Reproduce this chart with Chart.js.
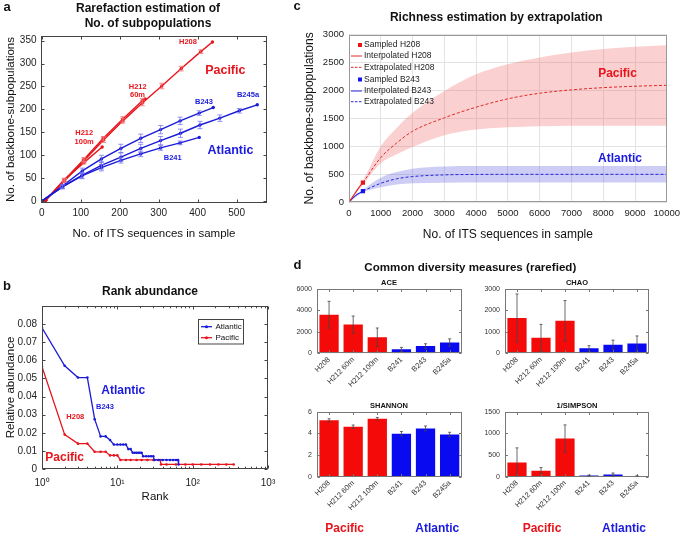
<!DOCTYPE html>
<html><head><meta charset="utf-8">
<script src="https://cdn.jsdelivr.net/npm/chart.js@4.4.1/dist/chart.umd.min.js"></script>
<style>
body{margin:0;background:#fff;}
#wrap{position:relative;width:685px;height:533px;overflow:hidden;font-family:"Liberation Sans",Arial,sans-serif;color:#111;}
#wrap canvas{position:absolute;left:0;top:0;}
.t{position:absolute;white-space:nowrap;transform:translate(-50%,-50%);line-height:1;}
.b{font-weight:bold;}
.r{color:#e8141c;}
.u{color:#1a1ae0;}
</style></head><body>
<div id="wrap">
<canvas id="ca" width="685" height="533"></canvas>
<canvas id="cb" width="685" height="533"></canvas>
<canvas id="cc" width="685" height="533"></canvas>
<canvas id="cd1" width="685" height="533"></canvas>
<canvas id="cd2" width="685" height="533"></canvas>
<canvas id="cd3" width="685" height="533"></canvas>
<canvas id="cd4" width="685" height="533"></canvas>

<div class="t b" style="left:7px;top:6px;font-size:13px;">a</div>
<div class="t b" style="left:7px;top:285px;font-size:13px;">b</div>
<div class="t b" style="left:297px;top:5px;font-size:13px;">c</div>
<div class="t b" style="left:297.5px;top:263.5px;font-size:13px;">d</div>

<div class="t b" style="left:148px;top:7.5px;font-size:12px;">Rarefaction estimation of</div>
<div class="t b" style="left:148px;top:22.7px;font-size:12px;">No. of subpopulations</div>
<div class="t b" style="left:150px;top:290.5px;font-size:12px;">Rank abundance</div>
<div class="t b" style="left:496.3px;top:17.3px;font-size:12px;">Richness estimation by extrapolation</div>
<div class="t b" style="left:470.3px;top:266.7px;font-size:11.6px;">Common diversity measures (rarefied)</div>

<div class="t b r" style="left:188px;top:41.7px;font-size:7.5px;">H208</div>
<div class="t b r" style="left:225.3px;top:70px;font-size:12.5px;">Pacific</div>
<div class="t b u" style="left:204px;top:101.5px;font-size:7.5px;">B243</div>
<div class="t b u" style="left:248px;top:95px;font-size:7.5px;">B245a</div>
<div class="t b u" style="left:230.5px;top:150.3px;font-size:12.5px;">Atlantic</div>
<div class="t b u" style="left:172.7px;top:157.8px;font-size:7.5px;">B241</div>
<div class="t b r" style="left:137.7px;top:86.7px;font-size:7.5px;">H212</div>
<div class="t b r" style="left:137.5px;top:94.7px;font-size:7.5px;">60m</div>
<div class="t b r" style="left:84.2px;top:133.2px;font-size:7.5px;">H212</div>
<div class="t b r" style="left:84.2px;top:141.8px;font-size:7.5px;">100m</div>

<div class="t b u" style="left:123.3px;top:390px;font-size:12px;">Atlantic</div>
<div class="t b u" style="left:105px;top:406.5px;font-size:7.5px;">B243</div>
<div class="t b r" style="left:75.3px;top:416.5px;font-size:7.5px;">H208</div>
<div class="t b r" style="left:64.7px;top:456.5px;font-size:12px;">Pacific</div>

<div class="t b r" style="left:617.5px;top:72.5px;font-size:12px;">Pacific</div>
<div class="t b u" style="left:620px;top:158px;font-size:12px;">Atlantic</div>

<div class="t b" style="left:389px;top:282.7px;font-size:7.5px;">ACE</div>
<div class="t b" style="left:577px;top:282.7px;font-size:7.5px;">CHAO</div>
<div class="t b" style="left:389px;top:406px;font-size:7.5px;">SHANNON</div>
<div class="t b" style="left:577px;top:406px;font-size:7.5px;">1/SIMPSON</div>

<div class="t b r" style="left:344.7px;top:527.7px;font-size:12px;">Pacific</div>
<div class="t b u" style="left:437.3px;top:527.7px;font-size:12px;">Atlantic</div>
<div class="t b r" style="left:542px;top:527.7px;font-size:12px;">Pacific</div>
<div class="t b u" style="left:624px;top:527.7px;font-size:12px;">Atlantic</div>
</div>
<script>
// ---------- Panel a: rarefaction ----------
const ticksA_X=[0,100,200,300,400,500];
const ticksA_Y=[0,50,100,150,200,250,300,350];
const rareH208X=[10,58,108,158,208,258,308,358,408,438];
const rareH208Y=[2,44,88,133,175,214,251,289,326,347];
const rareH208E=[0,3,4,5,5,6,6,5,4,0];
const rareH212_60X=[10,58,108,158,208,258,265];
const rareH212_60Y=[2,46,91,137,179,219,223];
const rareH212_60E=[0,3,4,4,5,5,0];
const rareH212_100X=[10,58,108,155];
const rareH212_100Y=[2,47,84,118];
const rareH212_100E=[0,3,3,0];
const rareB241X=[0,53,103,153,203,254,305,355,404];
const rareB241Y=[0,31,55,73,89,103,116,127,139];
const rareB241E=[0,4,6,7,6,6,5,4,0];
const rareB243X=[0,53,104,153,203,254,305,355,404,440];
const rareB243Y=[0,33,66,92,115,137,156,175,192,204];
const rareB243E=[0,4,6,8,9,9,9,8,5,0];
const rareB245aX=[0,53,103,153,203,254,305,356,406,457,507,553];
const rareB245aY=[0,31,56,78,96,115,132,148,166,181,197,210];
const rareB245aE=[0,4,6,8,9,9,9,9,8,7,5,0];

// ---------- Panel b: rank abundance ----------
const ticksB_X=[1,10,100,1000];
const ticksB_Xlab=['10\u2070','10\u00b9','10\u00b2','10\u00b3'];
const ticksB_Y=[0,0.01,0.02,0.03,0.04,0.05,0.06,0.07,0.08];
const rankAtl=[1,2,3,4,5,6,7,8,9,10,11,12,13,14,15,16,17,18,19,20,21,22,24,26,28,30,31,35,40,45,50,55,60,64,65];
const abunAtl=[.078,.057,.0505,.0505,.0275,.018,.018,.016,.0135,.0135,.0135,.0135,.0135,.011,.011,.009,.009,.009,.009,.009,.009,.007,.007,.007,.007,.007,.005,.005,.005,.005,.005,.005,.005,.005,.0025];
const rankPac=[1,2,3,4,5,6,7,8,9,10,11,13,15,18,21,25,30,37,38,45,60,80,100,130,170,220,280,350];
const abunPac=[.0565,.019,.014,.014,.0095,.0095,.0095,.0075,.0075,.0075,.005,.005,.005,.005,.005,.005,.005,.005,.0025,.0025,.0025,.0025,.0025,.0025,.0025,.0025,.0025,.0025];
const legendB=['Atlantic','Pacific'];

// ---------- Panel c: extrapolation ----------
const intX=[0,100,200,300,438];
const intH208=[0,85,170,255,350];
const intB243=[0,65,115,156,200];
const extX=[438,1000,1500,2000,3000,4000,5000,6000,7000,8000,9000,10000];
const extH208=[350,800,1060,1270,1510,1700,1850,1950,2010,2050,2075,2092];
const extH208Lo=[320,700,860,990,1200,1300,1340,1360,1370,1370,1370,1370];
const extH208Hi=[385,1000,1330,1600,1990,2290,2470,2590,2680,2740,2780,2810];
const extB243=[200,340,420,460,490,498,500,500,500,500,500,500];
const extB243Lo=[180,270,320,340,350,352,352,352,352,352,352,352];
const extB243Hi=[222,440,540,600,640,650,650,650,650,650,650,650];
const sampledH208=[438,350];
const sampledB243=[438,200];
const legendC=['Sampled H208','Interpolated H208','Extrapolated H208','Sampled B243','Interpolated B243','Extrapolated B243'];

// ---------- Panel d: diversity measures ----------
const divLabels=['H208','H212 60m','H212 100m','B241','B243','B245a'];
const divOcean=['Pacific','Pacific','Pacific','Atlantic','Atlantic','Atlantic'];
const aceVals=[3600,2680,1500,370,670,1010];
const aceErr=[1250,800,860,180,220,340];
const chaoVals=[1650,720,1520,230,400,460];
const chaoErr=[1120,630,940,125,215,350];
const shannonVals=[5.2,4.62,5.35,3.97,4.46,3.9];
const shannonErr=[0.15,0.15,0.12,0.2,0.22,0.2];
const simpsonVals=[325,140,880,25,50,15];
const simpsonErr=[340,70,315,10,35,8];
const aceTicks=[0,2000,4000,6000];
const chaoTicks=[0,1000,2000,3000];
const shannonTicks=[0,2,4,6];
const simpsonTicks=[0,500,1000,1500];

// ================= rendering =================
const W=685,H=533;
const FONT='"Liberation Sans", Arial, sans-serif';
Chart.defaults.font.family=FONT;
Chart.defaults.color='#222';
const RED='rgb(232,20,28)', BLUE='rgb(26,26,215)';
const plain=v=>String(v);

function pad(l,t,r,b,axW,axH){return {left:l-axW,top:t,right:W-r,bottom:H-b-axH};}
function pts(xs,ys){return xs.map((x,i)=>({x:x,y:ys[i]}));}
function setTicks(arr){return s=>{s.ticks=arr.map(v=>({value:v}));};}

function framePlugin(o){
  return {id:'frameTicks',afterDatasetsDraw(chart){
    const ctx=chart.ctx,a=chart.chartArea,xs=chart.scales.x,ys=chart.scales.y;
    ctx.save();
    ctx.strokeStyle=o.color;ctx.lineWidth=1;
    const L0=Math.round(a.left)+0.5,T0=Math.round(a.top)+0.5,R0=Math.round(a.right)-0.5,B0=Math.round(a.bottom)-0.5;
    ctx.strokeRect(L0,T0,R0-L0,B0-T0);
    const L=o.len||0;
    if(L>0){
      ctx.beginPath();
      const xp=[];
      xs.ticks.forEach((t,i)=>xp.push([xs.getPixelForTick(i),L]));
      if(o.logMinor){for(let d=1;d<xs.max;d*=10)for(let k=2;k<10;k++){const v=k*d;if(v<xs.max)xp.push([xs.getPixelForValue(v),L*0.6]);}}
      xp.forEach(p=>{const x=Math.round(p[0])+0.5;ctx.moveTo(x,B0);ctx.lineTo(x,B0-p[1]);ctx.moveTo(x,T0);ctx.lineTo(x,T0+p[1]);});
      ys.ticks.forEach((t,i)=>{const y=Math.round(ys.getPixelForTick(i))+0.5;ctx.moveTo(L0,y);ctx.lineTo(L0+L,y);ctx.moveTo(R0,y);ctx.lineTo(R0-L,y);});
      ctx.stroke();
    }
    ctx.restore();
  }};
}
const errPlugin={id:'errBars',afterDatasetsDraw(chart){
  const ctx=chart.ctx,ys=chart.scales.y,a=chart.chartArea;
  chart.data.datasets.forEach((ds,i)=>{
    if(!ds.errs)return;
    const meta=chart.getDatasetMeta(i);
    ctx.save();ctx.strokeStyle=ds.errColor;ctx.lineWidth=ds.errWidth||1;
    ds.errs.forEach((e,j)=>{
      if(!e)return;
      const d=ds.data[j];const v=(typeof d==='object')?d.y:d;
      const x=meta.data[j].x;
      const yTop=Math.max(a.top,ys.getPixelForValue(v+e));
      const yBot=Math.min(a.bottom,ys.getPixelForValue(v-e));
      const c=ds.errCap||2;
      ctx.beginPath();
      ctx.moveTo(x,yTop);ctx.lineTo(x,yBot);
      ctx.moveTo(x-c,yTop);ctx.lineTo(x+c,yTop);
      if(yBot<a.bottom-0.5){ctx.moveTo(x-c,yBot);ctx.lineTo(x+c,yBot);}
      ctx.stroke();
    });
    ctx.restore();
  });
}};

function axisX(o){
  return Object.assign({type:'linear',grid:{display:false,drawTicks:false},border:{display:false},
    ticks:{font:{size:10},color:'#222',padding:4,maxRotation:0,minRotation:0,callback:plain}},o);
}

// ---- Panel a ----
function rareSet(xs,ys,es,color,errColor){
  return {data:pts(xs,ys),errs:es,errColor:errColor,errCap:2.5,borderColor:color,backgroundColor:color,
    borderWidth:1.4,pointRadius:1.7,pointBorderWidth:0,tension:0,fill:false};
}
new Chart(document.getElementById('ca'),{
  type:'line',
  data:{datasets:[
    rareSet(rareB241X,rareB241Y,rareB241E,BLUE,'rgba(110,110,240,0.75)'),
    rareSet(rareB243X,rareB243Y,rareB243E,BLUE,'rgba(110,110,240,0.75)'),
    rareSet(rareB245aX,rareB245aY,rareB245aE,BLUE,'rgba(110,110,240,0.75)'),
    rareSet(rareH208X,rareH208Y,rareH208E,RED,'rgba(240,110,110,0.8)'),
    rareSet(rareH212_60X,rareH212_60Y,rareH212_60E,RED,'rgba(240,110,110,0.8)'),
    rareSet(rareH212_100X,rareH212_100Y,rareH212_100E,RED,'rgba(240,110,110,0.8)')
  ]},
  options:{responsive:false,animation:false,devicePixelRatio:1,
    layout:{padding:pad(41,36,267,203,40.9,41.9)},
    plugins:{legend:{display:false},tooltip:{enabled:false}},
    scales:{
      x:axisX({min:-2,max:578,afterBuildTicks:setTicks(ticksA_X),afterFit:s=>{s.height=41.9;},
        title:{display:true,text:'No. of ITS sequences in sample',font:{size:11.5},color:'#111',padding:4}}),
      y:axisX({min:-4,max:360,afterBuildTicks:setTicks(ticksA_Y),afterFit:s=>{s.width=40.9;},
        ticks:{font:{size:10},color:'#222',padding:4.5,callback:plain},
        title:{display:true,text:'No. of backbone-subpopulations',font:{size:11.5},color:'#111',padding:4}})
    }},
  plugins:[framePlugin({color:'#444',len:3}),errPlugin]
});

// ---- Panel b ----
const colorsB=[BLUE,RED];
new Chart(document.getElementById('cb'),{
  type:'line',
  data:{datasets:[
    {data:pts(rankAtl,abunAtl),borderColor:BLUE,backgroundColor:BLUE,borderWidth:1.3,pointRadius:1.3,pointBorderWidth:0,fill:false,tension:0},
    {data:pts(rankPac,abunPac),borderColor:RED,backgroundColor:RED,borderWidth:1.3,pointRadius:1.3,pointBorderWidth:0,fill:false,tension:0}
  ]},
  options:{responsive:false,animation:false,devicePixelRatio:1,
    layout:{padding:pad(42,306,268,469,41.9,38.9)},
    plugins:{legend:{display:false},tooltip:{enabled:false}},
    scales:{
      x:axisX({type:'logarithmic',min:1,max:1000,afterBuildTicks:setTicks(ticksB_X),afterFit:s=>{s.height=38.9;},
        ticks:{font:{size:10},color:'#222',padding:8,maxRotation:0,minRotation:0,callback:(v)=>ticksB_Xlab[ticksB_X.indexOf(v)]},
        title:{display:true,text:'Rank',font:{size:11.5},color:'#111',padding:4}}),
      y:axisX({min:0,max:0.09,afterBuildTicks:setTicks(ticksB_Y),afterFit:s=>{s.width=41.9;},
        ticks:{font:{size:10},color:'#222',padding:5,callback:v=>v===0?'0':v.toFixed(2)},
        title:{display:true,text:'Relative abundance',font:{size:11.5},color:'#111',padding:4}})
    }},
  plugins:[framePlugin({color:'#444',len:3,logMinor:true}),
    {id:'legB',afterDraw(chart){
      const ctx=chart.ctx;ctx.save();
      ctx.fillStyle='#fff';ctx.fillRect(198.5,319.5,45,24.5);
      ctx.strokeStyle='#444';ctx.lineWidth=1;ctx.strokeRect(198.5,319.5,45,24.5);
      legendB.forEach((name,i)=>{
        const y=326.7+i*11;
        ctx.strokeStyle=colorsB[i];ctx.lineWidth=1.3;ctx.beginPath();ctx.moveTo(201,y);ctx.lineTo(212,y);ctx.stroke();
        ctx.fillStyle=colorsB[i];ctx.beginPath();ctx.arc(206.5,y,1.5,0,7);ctx.fill();
        ctx.fillStyle='#111';ctx.font='8px '+FONT;ctx.textBaseline='middle';ctx.fillText(name,215.5,y);
      });
      ctx.restore();
    }}]
});

// ---- Panel c ----
const RED_C='rgb(225,40,40)', BLUE_C='rgb(40,40,220)';
new Chart(document.getElementById('cc'),{
  type:'line',
  data:{datasets:[
    {data:[{x:sampledH208[0],y:sampledH208[1]}],showLine:false,pointStyle:'rect',pointRadius:3,backgroundColor:'rgb(235,20,20)',borderWidth:0},
    {data:[{x:sampledB243[0],y:sampledB243[1]}],showLine:false,pointStyle:'rect',pointRadius:3,backgroundColor:'rgb(20,20,235)',borderWidth:0},
    {data:pts(intX,intH208),borderColor:RED_C,borderWidth:1.2,pointRadius:0,fill:false,cubicInterpolationMode:'monotone'},
    {data:pts(extX,extH208),borderColor:RED_C,borderWidth:1,borderDash:[3,2],pointRadius:0,fill:false,cubicInterpolationMode:'monotone'},
    {data:pts(intX,intB243),borderColor:BLUE_C,borderWidth:1.2,pointRadius:0,fill:false,cubicInterpolationMode:'monotone'},
    {data:pts(extX,extB243),borderColor:BLUE_C,borderWidth:1,borderDash:[3,2],pointRadius:0,fill:false,cubicInterpolationMode:'monotone'},
    {data:pts([0].concat(extX),[0].concat(extH208Lo)),borderWidth:0,pointRadius:0,fill:false,cubicInterpolationMode:'monotone'},
    {data:pts([0].concat(extX),[0].concat(extH208Hi)),borderWidth:0,pointRadius:0,fill:'-1',backgroundColor:'rgba(240,85,85,0.28)',cubicInterpolationMode:'monotone'},
    {data:pts([0].concat(extX),[0].concat(extB243Lo)),borderWidth:0,pointRadius:0,fill:false,cubicInterpolationMode:'monotone'},
    {data:pts([0].concat(extX),[0].concat(extB243Hi)),borderWidth:0,pointRadius:0,fill:'-1',backgroundColor:'rgba(90,90,225,0.3)',cubicInterpolationMode:'monotone'}
  ]},
  options:{responsive:false,animation:false,devicePixelRatio:1,
    layout:{padding:pad(349,34.5,671,202.3,50.2,43.9)},
    plugins:{legend:{display:false},tooltip:{enabled:false}},
    scales:{
      x:axisX({min:0,max:10000,ticks:{stepSize:1000,font:{size:9.5},color:'#222',padding:5,maxRotation:0,minRotation:0,callback:plain},
        grid:{display:true,drawTicks:false,color:'#e3e3e3'},afterFit:s=>{s.height=43.9;},
        title:{display:true,text:'No. of ITS sequences in sample',font:{size:12},color:'#111',padding:4}}),
      y:axisX({min:0,max:3000,ticks:{stepSize:500,font:{size:9.5},color:'#222',padding:5,callback:plain},
        grid:{display:true,drawTicks:false,color:'#e3e3e3'},afterFit:s=>{s.width=50.2;},
        title:{display:true,text:'No. of backbone-subpopulations',font:{size:12},color:'#111',padding:4}})
    }},
  plugins:[framePlugin({color:'#999',len:0}),
    {id:'legC',afterDraw(chart){
      const ctx=chart.ctx;ctx.save();
      const ys=[45,56,67.3,79.5,91,101.7];
      legendC.forEach((name,i)=>{
        const col=i<3?RED_C:BLUE_C;const y=ys[i];const kind=i%3;
        if(kind===0){ctx.fillStyle=i<3?'rgb(235,20,20)':'rgb(20,20,235)';ctx.fillRect(358,y-2,4,4);}
        else{ctx.strokeStyle=col;ctx.lineWidth=1;ctx.setLineDash(kind===2?[2.5,1.5]:[]);ctx.beginPath();ctx.moveTo(351,y);ctx.lineTo(362,y);ctx.stroke();ctx.setLineDash([]);}
        ctx.fillStyle='#222';ctx.font='8.5px '+FONT;ctx.textBaseline='middle';ctx.fillText(name,364,y);
      });
      ctx.restore();
    }}]
});

// ---- Panel d ----
const barColors=divOcean.map(o=>o==='Pacific'?'rgb(245,10,10)':'rgb(10,10,240)');
function divChart(id,vals,errs,tickVals,l,t,r,b){
  new Chart(document.getElementById(id),{
    type:'bar',
    data:{labels:divLabels,datasets:[{data:vals,errs:errs,errColor:'#444',errWidth:0.8,errCap:1.5,
      backgroundColor:barColors,borderWidth:0,barPercentage:0.8,categoryPercentage:1}]},
    options:{responsive:false,animation:false,devicePixelRatio:1,
      layout:{padding:pad(l,t,r,b,30,45)},
      plugins:{legend:{display:false},tooltip:{enabled:false}},
      scales:{
        x:{type:'category',offset:true,grid:{display:false,drawTicks:false},border:{display:false},afterFit:s=>{s.height=45;},
          ticks:{font:{size:7.5},color:'#333',padding:2,maxRotation:45,minRotation:45,autoSkip:false}},
        y:{type:'linear',min:tickVals[0],max:tickVals[tickVals.length-1],afterBuildTicks:setTicks(tickVals),
          grid:{display:false,drawTicks:false},border:{display:false},afterFit:s=>{s.width=30;},
          ticks:{font:{size:7},color:'#333',padding:5,callback:plain}}
      }},
    plugins:[framePlugin({color:'#777',len:2.5}),errPlugin]
  });
}
divChart('cd1',aceVals,aceErr,aceTicks,317,289,461.7,353.3);
divChart('cd2',chaoVals,chaoErr,chaoTicks,505,289,649,353.3);
divChart('cd3',shannonVals,shannonErr,shannonTicks,317,411.7,461.7,476.7);
divChart('cd4',simpsonVals,simpsonErr,simpsonTicks,505,411.7,649,476.7);
</script>
</body></html>
